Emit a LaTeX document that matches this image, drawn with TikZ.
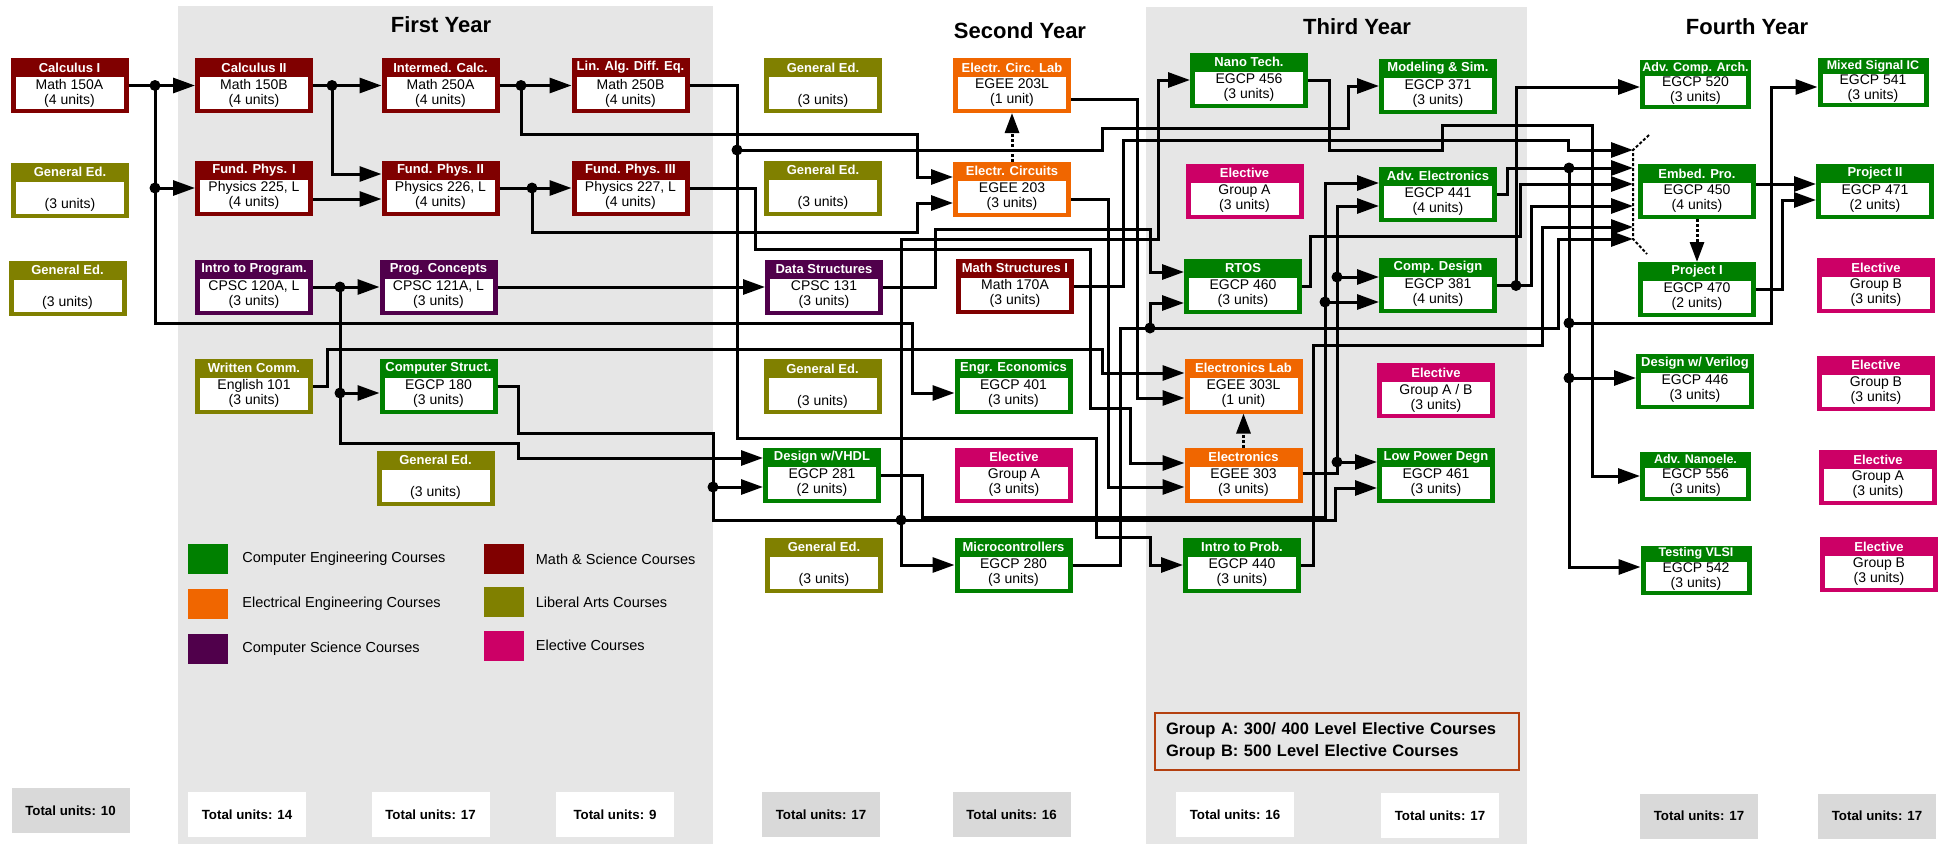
\documentclass[tikz,border=0pt]{standalone}
\usepackage{fontspec}
\setmainfont{Liberation Sans}
\usetikzlibrary{arrows.meta,positioning}

\definecolor{cpe}{RGB}{0,128,0}
\definecolor{ee}{RGB}{240,102,0}
\definecolor{cs}{RGB}{80,0,75}
\definecolor{mathsci}{RGB}{128,0,0}
\definecolor{libarts}{RGB}{128,128,0}
\definecolor{elective}{RGB}{204,0,102}
\definecolor{panel}{RGB}{230,230,230}
\definecolor{totgray}{RGB}{217,217,217}
\definecolor{grpline}{RGB}{180,64,16}

\tikzset{
  band/.store in = \cband,
  band = 19pt,
  lift/.store in = \clift,
  lift = 20pt,
  cbox/.style = {minimum width=118pt, minimum height=55pt,
                 inner sep=0pt, outer sep=0pt},
  ctitle/.style = {text=white, inner sep=0pt,
                   font=\fontsize{13}{15}\selectfont\bfseries},
  cbody/.style = {align=center, inner sep=0pt,
                  font=\fontsize{14}{15}\selectfont},
  small/.style = {band=16pt, lift=18pt,
                  cbox/.append style={minimum width=111pt, minimum height=49pt},
                  ctitle/.append style={font=\fontsize{12.5}{14}\selectfont\bfseries}},
  link/.style = {line width=3pt, -{Triangle[length=22pt, width=15pt]}},
  prereq/.style = {line width=3pt, densely dashed, -{Triangle[length=20pt, width=14pt]}},
  yeartitle/.style = {font=\fontsize{22}{26}\selectfont\bfseries},
  total/.style = {minimum width=118pt, minimum height=45pt, inner sep=0pt,
                  font=\fontsize{13.3}{15}\selectfont\bfseries},
  legsq/.style = {minimum width=40pt, minimum height=30pt, inner sep=0pt},
  legtext/.style = {font=\fontsize{14.5}{16}\selectfont, inner sep=0pt}
}

% course box: [options]{name}{colour}{centre}{title}{body}
\newcommand{\course}[6][]{%
  \begin{scope}[#1]
    \node[cbox, fill=#3] (#2) at (#4) {};
    \fill[white] ([xshift=5pt, yshift=4pt]#2.south west)
      rectangle ([xshift=-5pt, yshift=-\cband]#2.north east);
    \node[ctitle] at ([yshift=-0.5*\cband]#2.north) {#5};
    \node[cbody] at ([yshift=\clift]#2.south) {#6};
  \end{scope}%
}

\begin{document}
\begin{tikzpicture}[x=1pt, y=-1pt]
	\def \jr{5.5pt}
	\useasboundingbox (0,0) rectangle (1949,844);

	% Year panels
	\fill[panel] (178,6) rectangle (713,844);
	\fill[panel] (1146,7) rectangle (1527,844);

	% Year titles
	\node[yeartitle] (yr1) at (441,25) {First Year};
	\node[yeartitle] (yr2) at (1020,31) {Second Year};
	\node[yeartitle] (yr3) at (1357,27) {Third Year};
	\node[yeartitle] (yr4) at (1747,27) {Fourth Year};

	% Before first year
	\course{calcI}{mathsci}{69.5,85.5}{Calculus I}{Math 150A\\(4 units)}
	\course{genA}{libarts}{70,190}{General Ed.}{\strut\\(3 units)}
	\course{genB}{libarts}{67.5,288}{General Ed.}{\strut\\(3 units)}

	% First year
	\course{calcII}{mathsci}{254,85.5}{Calculus II}{Math 150B\\(4 units)}
	\course{physI}{mathsci}{254,188}{Fund. Phys. I}{Physics 225, L\\(4 units)}
	\course{introProg}{cs}{254,287}{Intro to Program.}{CPSC 120A, L\\(3 units)}
	\course{english}{libarts}{254,386}{Written Comm.}{English 101\\(3 units)}
	\course{interCalc}{mathsci}{440.5,85.5}{Intermed. Calc.}{Math 250A\\(4 units)}
	\course{physII}{mathsci}{440.5,188}{Fund. Phys. II}{Physics 226, L\\(4 units)}
	\course{progConc}{cs}{438.5,287}{Prog. Concepts}{CPSC 121A, L\\(3 units)}
	\course{compStruct}{cpe}{438.5,386}{Computer Struct.}{EGCP 180\\(3 units)}
	\course{genC}{libarts}{435.5,478}{General Ed.}{\strut\\(3 units)}
	\course{linAlg}{mathsci}{630.5,85.5}{Lin. Alg. Diff. Eq.}{Math 250B\\(4 units)}
	\course{physIII}{mathsci}{630.5,188}{Fund. Phys. III}{Physics 227, L\\(4 units)}

	% Second year
	\course{genD}{libarts}{823,85.5}{General Ed.}{\strut\\(3 units)}
	\course{genE}{libarts}{823,188}{General Ed.}{\strut\\(3 units)}
	\course{dataStruct}{cs}{824,287}{Data Structures}{CPSC 131\\(3 units)}
	\course{genF}{libarts}{822.5,386.5}{General Ed.}{\strut\\(3 units)}
	\course{vhdl}{cpe}{822,475}{Design w/VHDL}{EGCP 281\\(2 units)}
	\course{genG}{libarts}{824,565}{General Ed.}{\strut\\(3 units)}
	\course{circLab}{ee}{1012,85.5}{Electr. Circ. Lab}{EGEE 203L\\(1 unit)}
	\course{circuits}{ee}{1012,189}{Electr. Circuits}{EGEE 203\\(3 units)}
	\course{mathStruct}{mathsci}{1015,286}{Math Structures I}{Math 170A\\(3 units)}
	\course{engrEcon}{cpe}{1013.5,386}{Engr. Economics}{EGCP 401\\(3 units)}
	\course{electA}{elective}{1014,475}{Elective}{Group A\\(3 units)}
	\course{micro}{cpe}{1013.5,565}{Microcontrollers}{EGCP 280\\(3 units)}

	% Third year
	\course{nano}{cpe}{1249,80}{Nano Tech.}{EGCP 456\\(3 units)}
	\course{electB}{elective}{1244.5,191}{Elective}{Group A\\(3 units)}
	\course{rtos}{cpe}{1243,286}{RTOS}{EGCP 460\\(3 units)}
	\course{elecLab}{ee}{1243.5,386}{Electronics Lab}{EGEE 303L\\(1 unit)}
	\course{electronics}{ee}{1243.5,475}{Electronics}{EGEE 303\\(3 units)}
	\course{prob}{cpe}{1242,565}{Intro to Prob.}{EGCP 440\\(3 units)}
	\course{modeling}{cpe}{1438,86}{Modeling \& Sim.}{EGCP 371\\(3 units)}
	\course{advElec}{cpe}{1438,194}{Adv. Electronics}{EGCP 441\\(4 units)}
	\course{compDesign}{cpe}{1438,285.5}{Comp. Design}{EGCP 381\\(4 units)}
	\course{electAB}{elective}{1436,390.5}{Elective}{Group A / B\\(3 units)}
	\course{lowPower}{cpe}{1436,475}{Low Power Degn}{EGCP 461\\(3 units)}

	% Fourth year
	\course[small]{compArch}{cpe}{1695.5,84.5}{Adv. Comp. Arch.}{EGCP 520\\(3 units)}
	\course{embed}{cpe}{1697,191.5}{Embed. Pro.}{EGCP 450\\(4 units)}
	\course{projI}{cpe}{1697,289.5}{Project I}{EGCP 470\\(2 units)}
	\course{verilog}{cpe}{1695,381}{Design w/ Verilog}{EGCP 446\\(3 units)}
	\course[small]{nanoele}{cpe}{1695.5,476}{Adv. Nanoele.}{EGCP 556\\(3 units)}
	\course[small]{vlsi}{cpe}{1696,570}{Testing VLSI}{EGCP 542\\(3 units)}
	\course[small]{mixedSig}{cpe}{1873,82.5}{Mixed Signal IC}{EGCP 541\\(3 units)}
	\course{projII}{cpe}{1875,191.5}{Project II}{EGCP 471\\(2 units)}
	\course{electC}{elective}{1876,285.5}{Elective}{Group B\\(3 units)}
	\course{electD}{elective}{1876,383}{Elective}{Group B\\(3 units)}
	\course{electE}{elective}{1878,477.5}{Elective}{Group A\\(3 units)}
	\course{electF}{elective}{1879,564.5}{Elective}{Group B\\(3 units)}

	% Merge bracket in front of Embed. Pro.
	\node[minimum width=0pt, minimum height=89pt, inner sep=0pt, outer sep=0pt] (fan) at (1633,194.5) {};
	\draw[line width=2pt, densely dashed] ([shift={(16pt,15pt)}]fan.north) -- (fan.north) -- (fan.south) -- ([shift={(14pt,-15pt)}]fan.south);

	% Legend
	\node[legsq, fill=cpe] (legCpe) at (208,559) {};
	\node[legsq, fill=ee] (legEe) at (208,603.5) {};
	\node[legsq, fill=cs] (legCs) at (208,648.5) {};
	\node[legsq, fill=mathsci] (legMs) at (503.5,559) {};
	\node[legsq, fill=libarts] (legLa) at (503.5,602) {};
	\node[legsq, fill=elective] (legEl) at (503.5,645.5) {};
	\node[legtext, right=14pt of legCpe] (legCpeTxt) {Computer Engineering Courses};
	\node[legtext, right=14pt of legEe] (legEeTxt) {Electrical Engineering Courses};
	\node[legtext, right=14pt of legCs] (legCsTxt) {Computer Science Courses};
	\node[legtext, right=12pt of legMs] (legMsTxt) {Math \& Science Courses};
	\node[legtext, right=12pt of legLa] (legLaTxt) {Liberal Arts Courses};
	\node[legtext, right=12pt of legEl] (legElTxt) {Elective Courses};

	% Elective groups
	\node[draw=grpline, line width=2pt, minimum width=364pt, minimum height=57pt,
	      inner sep=0pt, text width=342pt, align=left,
	      font=\fontsize{16.5}{22}\selectfont\bfseries] (groups) at (1337,741.5)
	      {Group A: 300/ 400 Level Elective Courses\\Group B: 500 Level Elective Courses};

	% Totals
	\node[total, fill=totgray] (tot1) at (70.5,810.5) {Total units: 10};
	\node[total, fill=white] (tot2) at (247,814.5) {Total units: 14};
	\node[total, fill=white] (tot3) at (430.5,814.5) {Total units: 17};
	\node[total, fill=white] (tot4) at (615,814.5) {Total units: 9};
	\node[total, fill=totgray] (tot5) at (821,814.5) {Total units: 17};
	\node[total, fill=totgray] (tot6) at (1011.5,814.5) {Total units: 16};
	\node[total, fill=white] (tot7) at (1235,814.5) {Total units: 16};
	\node[total, fill=white] (tot8) at (1440,815.5) {Total units: 17};
	\node[total, fill=totgray] (tot9) at (1699,816) {Total units: 17};
	\node[total, fill=totgray] (tot10) at (1877,816) {Total units: 17};

	% Prerequisites, first year
	\draw[link] (calcI.east) -- (calcII.west);
	\draw[link] (calcI.east) -| (155,188) -- (physI.west);
	\draw[link] (calcI.east) -| (155,323) -| (912,393) -- ([yshift=-7pt]engrEcon.west);
	\draw[link] (calcII.east) -- (interCalc.west);
	\draw[link] (calcII.east) -| (332,174) -- ([yshift=14pt]physII.west);
	\draw[link] ([yshift=-11pt]physI.east) -- ([yshift=-11pt]physII.west);
	\draw[link] (interCalc.east) -- (linAlg.west);
	\draw[link] (interCalc.east) -| (521,134) -| (917,177) -- ([yshift=12pt]circuits.west);
	\draw[link] (physII.east) -- (physIII.west);
	\draw[link] (physII.east) -| (532,232) -| (917,203) -- ([yshift=-14pt]circuits.west);
	\draw[link] (linAlg.east) -| (737,150) -| (1102,128) -| (1348,86) -- (modeling.west);
	\draw[link] (linAlg.east) -| (737,438) -| (1096,537) -| (1150,565) -- (prob.west);
	\draw[link] (physIII.east) -| (755,249) -| (1090,408) -| (1130,463) -- ([yshift=12pt]electronics.west);
	\draw[link] (introProg.east) -- (progConc.west);
	\draw[link] (introProg.east) -| (340,393) -- ([yshift=-7pt]compStruct.west);
	\draw[link] (introProg.east) -| (340,443) -| (518,458) -- ([yshift=17pt]vhdl.west);
	\draw[link] (progConc.east) -- (dataStruct.west);
	\draw[link] (english.east) -| (327,349) -| (1102,373) -- ([yshift=13pt]elecLab.west);
	\draw[link] (compStruct.east) -| (518,433) -| (713,487) -- ([yshift=-12pt]vhdl.west);
	\draw[link] (compStruct.east) -| (518,433) -| (713,520) -| (901,239) -| (1158,80) -- (nano.west);
	\draw[link] (compStruct.east) -| (518,433) -| (713,520) -| (901,565) -- (micro.west);
	\draw[link] (compStruct.east) -| (518,433) -| (713,520) -| (1335,488) -- ([yshift=-13pt]lowPower.west);

	% Prerequisites, second year
	\draw[link] (dataStruct.east) -| (935,229) -| (1150,272) -- ([yshift=14pt]rtos.west);
	\draw[prereq] (circuits.north) -- (circLab.south);
	\draw[link] ([yshift=-14pt]circLab.east) -| (1137,398) -- ([yshift=-12pt]elecLab.west);
	\draw[link] ([yshift=-10pt]circuits.east) -| (1108,487) -- ([yshift=-12pt]electronics.west);
	\draw[link] (mathStruct.east) -| (1123,140) -| (1568,150) -- ([yshift=44.5pt]fan.west);
	\draw[link] (micro.east) -| (1120,328) -| (1150,303) -- ([yshift=-17pt]rtos.west);
	\draw[link] (micro.east) -| (1120,328) -| (1558,239) -- ([yshift=-44.5pt]fan.west);
	\draw[link] (vhdl.east) -| (922,517) -| (1325,183) -- ([yshift=11pt]advElec.west);
	\draw[link] (vhdl.east) -| (922,517) -| (1325,302) -- ([yshift=-16.5pt]compDesign.west);

	% Prerequisites, third year
	\draw[link] (nano.east) -| (1329,150) -| (1442,125) -| (1592,476) -- (nanoele.west);
	\draw[prereq] (electronics.north) -- (elecLab.south);
	\draw[link] ([yshift=2pt]electronics.east) -| (1337,462) -- ([yshift=13pt]lowPower.west);
	\draw[link] ([yshift=2pt]electronics.east) -| (1337,277) -- ([yshift=8.5pt]compDesign.west);
	\draw[link] ([yshift=2pt]electronics.east) -| (1337,206) -- ([yshift=-12pt]advElec.west);
	\draw[link] (rtos.east) -| (1310,236) -| (1520,184) -- ([yshift=10.5pt]fan.west);
	\draw[link] (advElec.east) -| (1507,168) -- ([yshift=26.5pt]fan.west);
	\draw[link] (advElec.east) -| (1507,168) -| (1569,378) -- ([yshift=3pt]verilog.west);
	\draw[link] (advElec.east) -| (1507,168) -| (1569,567) -- ([yshift=3pt]vlsi.west);
	\draw[link] (advElec.east) -| (1507,168) -| (1569,323) -| (1771,87) -- ([yshift=-4.5pt]mixedSig.west);
	\draw[link] (compDesign.east) -| (1516,87) -- ([yshift=-2.5pt]compArch.west);
	\draw[link] (compDesign.east) -| (1531,206) -- ([yshift=-11.5pt]fan.west);
	\draw[link] (prob.east) -| (1313,345) -| (1542,227) -- ([yshift=-32.5pt]fan.west);

	% Prerequisites, fourth year
	\draw[prereq] (embed.south) -- (projI.north);
	\draw[link] ([yshift=7.5pt]embed.east) -- ([yshift=7.5pt]projII.west);
	\draw[link] (projI.east) -| (1782,200) -- ([yshift=-8.5pt]projII.west);

	% Junctions
	\fill (155,85.5) circle (\jr);
	\fill (155,188) circle (\jr);
	\fill (332,85.5) circle (\jr);
	\fill (521,85.5) circle (\jr);
	\fill (532,188) circle (\jr);
	\fill (737,150) circle (\jr);
	\fill (340,287) circle (\jr);
	\fill (340,393) circle (\jr);
	\fill (713,487) circle (\jr);
	\fill (901,520) circle (\jr);
	\fill (1150,328) circle (\jr);
	\fill (1325,302) circle (\jr);
	\fill (1337,462) circle (\jr);
	\fill (1337,277) circle (\jr);
	\fill (1569,168) circle (\jr);
	\fill (1569,323) circle (\jr);
	\fill (1569,378) circle (\jr);
	\fill (1516,285.5) circle (\jr);

\end{tikzpicture}
\end{document}
